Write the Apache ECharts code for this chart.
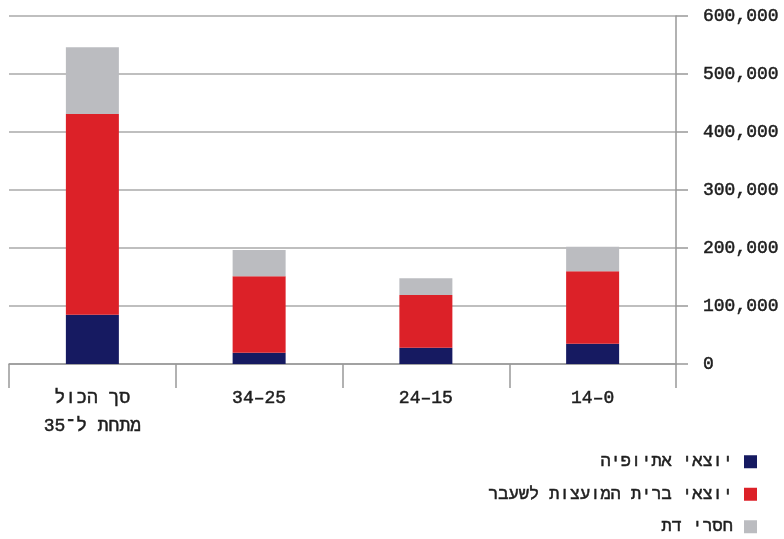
<!DOCTYPE html>
<html>
<head>
<meta charset="utf-8">
<script src="https://cdn.jsdelivr.net/npm/echarts@6/dist/echarts.min.js"></script>
<style>
html,body{margin:0;padding:0;background:#fff;}
#c{width:784px;height:539px;}
</style>
</head>
<body>
<div id="c"></div>
<script>
const RLE = '\u202B', PDF = '\u202C';
const categories = [RLE + 'סך הכול' + PDF + '\n' + RLE + 'מתחת ל־35' + PDF, '34–25', '24–15', '14–0'];
const seriesNames = ['יוצאי אתיופיה', 'יוצאי ברית המועצות לשעבר', 'חסרי דת'];
const ethiopia = [85000, 19500, 28000, 35000];
const fsu = [346000, 132000, 91000, 125000];
const noReligion = [115000, 45000, 29000, 42000];
const colors = ['#161a61', '#dc2128', '#bbbcc0'];
const FONT = 'Liberation Mono';
const TXT = '#1e1e1e';
const bold = {textBorderColor: TXT, textBorderWidth: 0.5};

const chart = echarts.init(document.getElementById('c'), null, {renderer: 'canvas'});
chart.setOption({
  animation: false,
  textStyle: {fontFamily: FONT},
  grid: {left: 9, right: 108, top: 16, bottom: 175, containLabel: false},
  legend: {
    orient: 'vertical', right: 22, top: 448, height: 120, align: 'right',
    itemWidth: 13, itemHeight: 13, itemGap: 15,
    icon: 'rect',
    textStyle: Object.assign({fontFamily: FONT, fontSize: 17, color: TXT, padding: [0, 6, 0, 0]}, bold),
    data: seriesNames
  },
  xAxis: {
    type: 'category', data: categories,
    axisLine: {show: true, lineStyle: {color: '#999', width: 1.5}},
    axisTick: {show: true, length: 24, alignWithLabel: false, lineStyle: {color: '#999', width: 1.5}},
    axisLabel: Object.assign({fontFamily: FONT, fontSize: 18, color: TXT, margin: 20, lineHeight: 28}, bold)
  },
  yAxis: {
    type: 'value', position: 'right', min: 0, max: 600000, interval: 100000,
    axisLine: {show: true, lineStyle: {color: '#999', width: 1.5}},
    axisTick: {show: true, length: 12, inside: false, lineStyle: {color: '#999', width: 1.5}},
    splitLine: {show: true, lineStyle: {color: '#aaa', width: 1.5}},
    axisLabel: Object.assign({fontFamily: FONT, fontSize: 18, color: TXT, margin: 27,
      formatter: v => v.toLocaleString('en-US')}, bold)
  },
  series: [
    {name: seriesNames[0], type: 'bar', stack: 's', data: ethiopia, barWidth: 53, itemStyle: {color: colors[0]}},
    {name: seriesNames[1], type: 'bar', stack: 's', data: fsu, barWidth: 53, itemStyle: {color: colors[1]}},
    {name: seriesNames[2], type: 'bar', stack: 's', data: noReligion, barWidth: 53, itemStyle: {color: colors[2]}}
  ]
});
</script>
</body>
</html>
